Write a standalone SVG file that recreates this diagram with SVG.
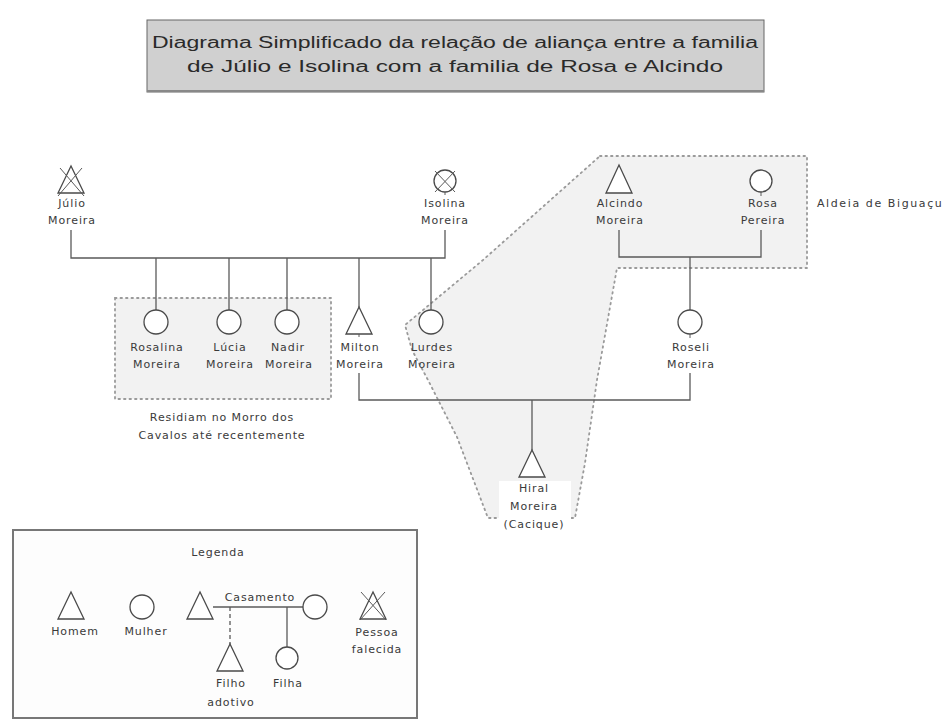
<svg xmlns="http://www.w3.org/2000/svg" width="944" height="720" viewBox="0 0 944 720">
<style>
.t{font-family:"DejaVu Sans","Liberation Sans",sans-serif;font-size:11px;letter-spacing:0.9px;fill:#3a3a3a;text-anchor:middle}
.ttl{font-family:"Liberation Sans",Arial,sans-serif;font-size:16px;fill:#2a2a2a;text-anchor:middle}
.ln{stroke:#5a5a5a;stroke-width:1.3;fill:none}
.sym{stroke:#4a4a4a;stroke-width:1.3;fill:#fff}
.x{stroke:#5a5a5a;stroke-width:1;fill:none}
.dot{stroke:#9a9a9a;stroke-width:1.8;stroke-dasharray:1.5 4;stroke-linecap:round;fill:#f2f2f2}
.dash{stroke:#5a5a5a;stroke-width:1.3;stroke-dasharray:4 3;fill:none}
</style>
<rect width="944" height="720" fill="#fff"/>

<g id="title">
<rect x="147" y="20" width="617" height="72" fill="#d0d0d0" stroke="#666" stroke-width="1"/>
<line x1="147" y1="91" x2="764" y2="91" stroke="#888" stroke-width="2"/>
<text class="ttl" x="455" y="48" textLength="606" lengthAdjust="spacingAndGlyphs">Diagrama Simplificado da relação de aliança entre a familia</text>
<text class="ttl" x="455" y="72" textLength="536" lengthAdjust="spacingAndGlyphs">de Júlio e Isolina com a familia de Rosa e Alcindo</text>
</g>

<g id="regions">
<path class="dot" d="M600,156 L807,156 L807,268 L617,268 L597,380 L585,463 L575,518 L488,518 L457,437 L428,380 L412,350 L405,325 L483,260 Z"/>
<rect class="dot" x="115" y="298" width="216" height="101"/>
</g>

<g id="connectors">
<polyline class="ln" points="71,230 71,258 445,258 445,230"/>
<line class="ln" x1="156" y1="258" x2="156" y2="310"/>
<line class="ln" x1="229" y1="258" x2="229" y2="310"/>
<line class="ln" x1="287" y1="258" x2="287" y2="310"/>
<line class="ln" x1="359" y1="258" x2="359" y2="307"/>
<line class="ln" x1="431" y1="258" x2="431" y2="310"/>
<polyline class="ln" points="619,230 619,257 761,257 761,230"/>
<line class="ln" x1="690" y1="257" x2="690" y2="310"/>
<polyline class="ln" points="359,373 359,400 690,400 690,373"/>
<line class="ln" x1="532" y1="400" x2="532" y2="450"/>
</g>

<g id="julio">
<polygon class="sym" points="71,166 58,193 84,193"/>
<line class="x" x1="60" y1="168" x2="84" y2="196"/>
<line class="x" x1="82" y1="168" x2="58" y2="196"/>
<text class="t" x="72" y="207">Júlio</text>
<text class="t" x="72" y="224">Moreira</text>
</g>

<g id="isolina">
<circle class="sym" cx="445" cy="181" r="11"/>
<line class="x" x1="435" y1="171" x2="455" y2="192"/>
<line class="x" x1="455" y1="171" x2="435" y2="192"/>
<line class="x" x1="445" y1="192" x2="445" y2="195"/>
<text class="t" x="445" y="207">Isolina</text>
<text class="t" x="445" y="224">Moreira</text>
</g>

<g id="alcindo">
<polygon class="sym" points="619,165 606,193 632,193"/>
<text class="t" x="620" y="207">Alcindo</text>
<text class="t" x="620" y="224">Moreira</text>
</g>

<g id="rosa">
<circle class="sym" cx="761" cy="181" r="11"/>
<line class="x" x1="761" y1="192" x2="761" y2="196"/>
<text class="t" x="763" y="207">Rosa</text>
<text class="t" x="763" y="224">Pereira</text>
</g>

<g id="aldeia">
<text class="t" x="817" y="207" style="text-anchor:start;letter-spacing:1.6px">Aldeia de Biguaçu</text>
</g>

<g id="rosalina">
<circle class="sym" cx="156" cy="322" r="12"/>
<text class="t" x="157" y="351">Rosalina</text>
<text class="t" x="157" y="368">Moreira</text>
</g>

<g id="lucia">
<circle class="sym" cx="229" cy="322" r="12"/>
<text class="t" x="230" y="351">Lúcia</text>
<text class="t" x="230" y="368">Moreira</text>
</g>

<g id="nadir">
<circle class="sym" cx="287" cy="322" r="12"/>
<text class="t" x="288" y="351">Nadir</text>
<text class="t" x="289" y="368">Moreira</text>
</g>

<g id="residiam">
<text class="t" x="222" y="421">Residiam no Morro dos</text>
<text class="t" x="222" y="439">Cavalos até recentemente</text>
</g>

<g id="milton">
<polygon class="sym" points="359,307 346,334 372,334"/>
<line class="x" x1="359" y1="334" x2="359" y2="337"/>
<text class="t" x="360" y="351">Milton</text>
<text class="t" x="360" y="368">Moreira</text>
</g>

<g id="lurdes">
<circle class="sym" cx="431" cy="322" r="12"/>
<text class="t" x="432" y="351">Lurdes</text>
<text class="t" x="432" y="368">Moreira</text>
</g>

<g id="roseli">
<circle class="sym" cx="690" cy="322" r="12"/>
<line class="x" x1="690" y1="334" x2="690" y2="338"/>
<text class="t" x="691" y="351">Roseli</text>
<text class="t" x="691" y="368">Moreira</text>
</g>

<g id="hiral">
<rect x="499" y="481" width="72" height="52" fill="#fff"/>
<polygon class="sym" points="532,450 519,477 545,477"/>
<text class="t" x="534" y="492">Hiral</text>
<text class="t" x="534" y="510">Moreira</text>
<text class="t" x="534" y="528">(Cacique)</text>
</g>

<g id="legenda">
<rect x="13" y="530" width="404" height="188" fill="#fdfdfd" stroke="#777" stroke-width="2"/>
<text class="t" x="218" y="556">Legenda</text>
<polygon class="sym" points="71,592 58,619 84,619"/>
<text class="t" x="75" y="635">Homem</text>
<circle class="sym" cx="142" cy="607" r="12"/>
<text class="t" x="146" y="635">Mulher</text>
<polygon class="sym" points="200,592 187,619 213,619"/>
<line class="ln" x1="213" y1="607" x2="303" y2="607"/>
<text class="t" x="260" y="601">Casamento</text>
<circle class="sym" cx="315" cy="607" r="12"/>
<line class="dash" x1="230" y1="607" x2="230" y2="644"/>
<polygon class="sym" points="230,644 217,671 243,671"/>
<text class="t" x="231" y="687">Filho</text>
<text class="t" x="231" y="706">adotivo</text>
<line class="ln" x1="287" y1="607" x2="287" y2="647"/>
<circle class="sym" cx="287" cy="658" r="11"/>
<text class="t" x="288" y="687">Filha</text>
<polygon class="sym" points="373,592 360,619 386,619"/>
<line class="x" x1="361" y1="592" x2="386" y2="620"/>
<line class="x" x1="385" y1="592" x2="360" y2="620"/>
<text class="t" x="377" y="636">Pessoa</text>
<text class="t" x="377" y="653">falecida</text>
</g>
</svg>
